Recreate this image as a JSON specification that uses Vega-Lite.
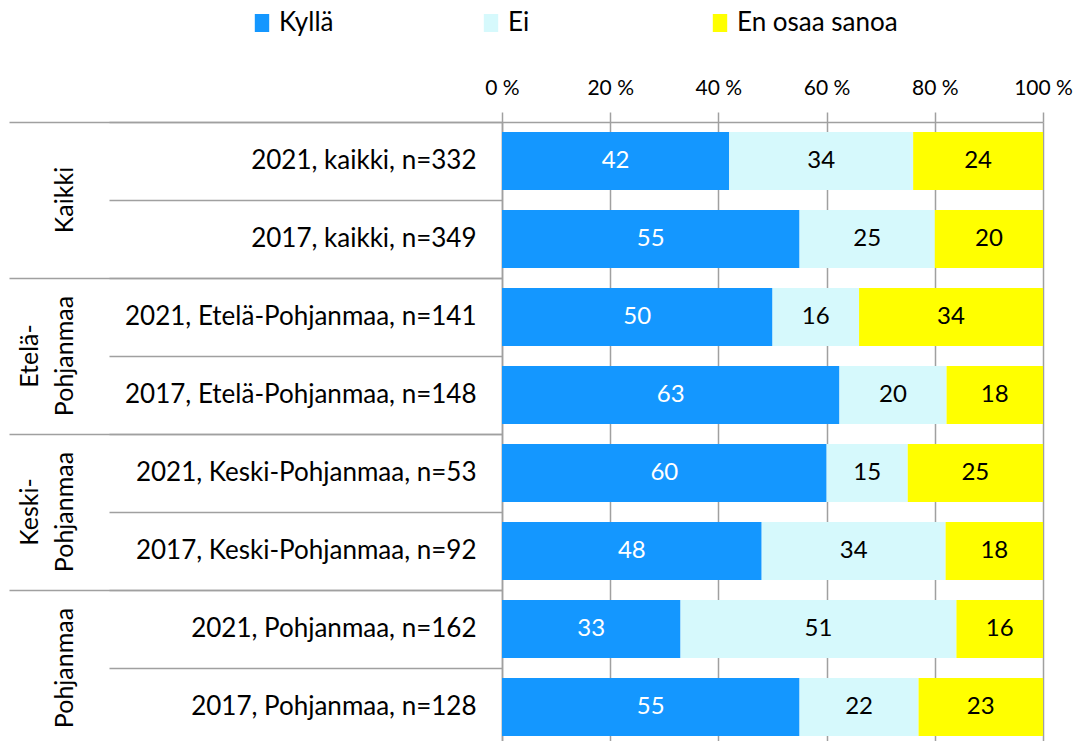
{
  "$schema": "https://vega.github.io/schema/vega-lite/v6.json",
  "width": 541,
  "height": 624,
  "autosize": {"type": "none"},
  "padding": {"left": 502, "top": 122, "right": 38, "bottom": 0},
  "background": "white",
  "config": {"view": {"stroke": null}, "font": "Lato"},
  "data": {"values": [
    {"label": "2021, kaikki, n=332", "group": "Kaikki", "cat": "Kyllä", "k": 1, "value": 42},
    {"label": "2021, kaikki, n=332", "group": "Kaikki", "cat": "Ei", "k": 2, "value": 34},
    {"label": "2021, kaikki, n=332", "group": "Kaikki", "cat": "En osaa sanoa", "k": 3, "value": 24},
    {"label": "2017, kaikki, n=349", "group": "Kaikki", "cat": "Kyllä", "k": 1, "value": 55},
    {"label": "2017, kaikki, n=349", "group": "Kaikki", "cat": "Ei", "k": 2, "value": 25},
    {"label": "2017, kaikki, n=349", "group": "Kaikki", "cat": "En osaa sanoa", "k": 3, "value": 20},
    {"label": "2021, Etelä-Pohjanmaa, n=141", "group": "Etelä-Pohjanmaa", "cat": "Kyllä", "k": 1, "value": 50},
    {"label": "2021, Etelä-Pohjanmaa, n=141", "group": "Etelä-Pohjanmaa", "cat": "Ei", "k": 2, "value": 16},
    {"label": "2021, Etelä-Pohjanmaa, n=141", "group": "Etelä-Pohjanmaa", "cat": "En osaa sanoa", "k": 3, "value": 34},
    {"label": "2017, Etelä-Pohjanmaa, n=148", "group": "Etelä-Pohjanmaa", "cat": "Kyllä", "k": 1, "value": 63},
    {"label": "2017, Etelä-Pohjanmaa, n=148", "group": "Etelä-Pohjanmaa", "cat": "Ei", "k": 2, "value": 20},
    {"label": "2017, Etelä-Pohjanmaa, n=148", "group": "Etelä-Pohjanmaa", "cat": "En osaa sanoa", "k": 3, "value": 18},
    {"label": "2021, Keski-Pohjanmaa, n=53", "group": "Keski-Pohjanmaa", "cat": "Kyllä", "k": 1, "value": 60},
    {"label": "2021, Keski-Pohjanmaa, n=53", "group": "Keski-Pohjanmaa", "cat": "Ei", "k": 2, "value": 15},
    {"label": "2021, Keski-Pohjanmaa, n=53", "group": "Keski-Pohjanmaa", "cat": "En osaa sanoa", "k": 3, "value": 25},
    {"label": "2017, Keski-Pohjanmaa, n=92", "group": "Keski-Pohjanmaa", "cat": "Kyllä", "k": 1, "value": 48},
    {"label": "2017, Keski-Pohjanmaa, n=92", "group": "Keski-Pohjanmaa", "cat": "Ei", "k": 2, "value": 34},
    {"label": "2017, Keski-Pohjanmaa, n=92", "group": "Keski-Pohjanmaa", "cat": "En osaa sanoa", "k": 3, "value": 18},
    {"label": "2021, Pohjanmaa, n=162", "group": "Pohjanmaa", "cat": "Kyllä", "k": 1, "value": 33},
    {"label": "2021, Pohjanmaa, n=162", "group": "Pohjanmaa", "cat": "Ei", "k": 2, "value": 51},
    {"label": "2021, Pohjanmaa, n=162", "group": "Pohjanmaa", "cat": "En osaa sanoa", "k": 3, "value": 16},
    {"label": "2017, Pohjanmaa, n=128", "group": "Pohjanmaa", "cat": "Kyllä", "k": 1, "value": 55},
    {"label": "2017, Pohjanmaa, n=128", "group": "Pohjanmaa", "cat": "Ei", "k": 2, "value": 22},
    {"label": "2017, Pohjanmaa, n=128", "group": "Pohjanmaa", "cat": "En osaa sanoa", "k": 3, "value": 23}
  ]},
  "transform": [
    {"stack": "value", "groupby": ["label"], "sort": [{"field": "k", "order": "ascending"}], "offset": "normalize", "as": ["v0", "v1"]},
    {"calculate": "(datum.v0 + datum.v1) / 2", "as": "mid"}
  ],
  "layer": [
    {
      "mark": {"type": "bar", "height": {"band": 0.745}},
      "encoding": {
        "y": {
          "field": "label", "type": "nominal",
          "sort": ["2021, kaikki, n=332", "2017, kaikki, n=349", "2021, Etelä-Pohjanmaa, n=141", "2017, Etelä-Pohjanmaa, n=148", "2021, Keski-Pohjanmaa, n=53", "2017, Keski-Pohjanmaa, n=92", "2021, Pohjanmaa, n=162", "2017, Pohjanmaa, n=128"],
          "scale": {"paddingInner": 0, "paddingOuter": 0},
          "axis": {
            "orient": "left", "title": null, "bandPosition": 0,
            "tickSize": 393, "tickColor": "#A0A0A0", "tickWidth": 1.5,
            "domainColor": "#A0A0A0", "domainWidth": 1.5,
            "labelPadding": -367, "labelFontSize": 26, "labelColor": "black", "labelLimit": 0
          }
        },
        "x": {
          "field": "v0", "type": "quantitative",
          "scale": {"domain": [0, 1], "nice": false},
          "axis": {
            "orient": "top", "title": null, "values": [0, 0.2, 0.4, 0.6, 0.8, 1],
            "labelExpr": "round(datum.value * 100) + ' %'",
            "tickSize": 10, "tickColor": "#A0A0A0", "tickWidth": 1.5,
            "domainColor": "#A0A0A0", "domainWidth": 1.5,
            "grid": true, "gridColor": "#A0A0A0", "gridWidth": 1.5,
            "labelFontSize": 21, "labelPadding": 14, "labelColor": "black", "labelFlush": false
          }
        },
        "x2": {"field": "v1"},
        "color": {
          "field": "cat", "type": "nominal",
          "scale": {"domain": ["Kyllä", "Ei", "En osaa sanoa"], "range": ["#1497FF", "#D6F9FC", "#FFFF00"]},
          "legend": {
            "orient": "none", "legendX": -253, "legendY": -112,
            "direction": "horizontal", "columns": 3, "gridAlign": "all", "columnPadding": 38,
            "symbolType": "M-0.8,-1H0.8V1H-0.8Z", "symbolSize": 324, "symbolStrokeWidth": 0,
            "labelFontSize": 26, "labelOffset": 4, "labelColor": "black", "labelLimit": 0, "title": null
          }
        }
      }
    },
    {
      "mark": {"type": "text", "fontSize": 24},
      "encoding": {
        "y": {
          "field": "label", "type": "nominal",
          "sort": ["2021, kaikki, n=332", "2017, kaikki, n=349", "2021, Etelä-Pohjanmaa, n=141", "2017, Etelä-Pohjanmaa, n=148", "2021, Keski-Pohjanmaa, n=53", "2017, Keski-Pohjanmaa, n=92", "2021, Pohjanmaa, n=162", "2017, Pohjanmaa, n=128"],
          "axis": {
            "orient": "left", "title": null,
            "values": ["2021, kaikki, n=332", "2021, Etelä-Pohjanmaa, n=141", "2021, Keski-Pohjanmaa, n=53", "2021, Pohjanmaa, n=162"],
            "bandPosition": 0, "tickSize": 493, "tickColor": "#A0A0A0", "tickWidth": 1.5,
            "domain": false,
            "labelAngle": -90, "labelAlign": "center", "labelBaseline": "alphabetic",
            "labelPadding": {"condition": {"test": "indexof(datum.value, '-Pohjanmaa') >= 0", "value": -28}, "value": -63},
            "labelOffset": 39, "labelFontSize": 25, "labelColor": "black", "labelLineHeight": 35,
            "labelExpr": "indexof(datum.label, 'kaikki') >= 0 ? 'Kaikki' : indexof(datum.label, 'Etelä') >= 0 ? ['Etelä-', 'Pohjanmaa'] : indexof(datum.label, 'Keski') >= 0 ? ['Keski-', 'Pohjanmaa'] : 'Pohjanmaa'"
          }
        },
        "x": {"field": "mid", "type": "quantitative", "axis": null},
        "text": {"field": "value", "type": "quantitative"},
        "color": {"condition": {"test": "datum.cat == 'Kyllä'", "value": "white"}, "value": "black"}
      }
    }
  ],
  "resolve": {"axis": {"y": "independent", "x": "independent"}}
}
